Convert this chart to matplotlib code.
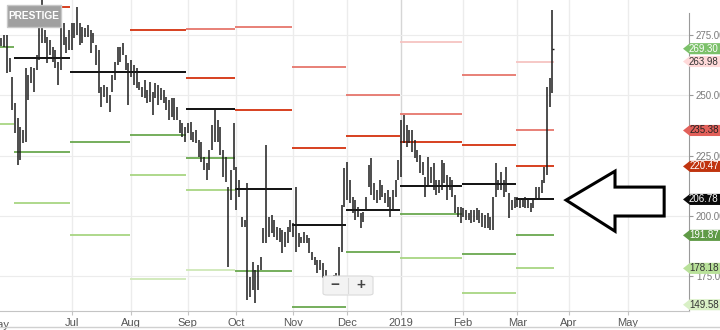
import matplotlib.pyplot as plt
import numpy as np
from matplotlib.patches import Polygon, FancyBboxPatch
from matplotlib.lines import Line2D
from matplotlib.transforms import blended_transform_factory

plt.rcParams['font.family'] = ['Liberation Sans', 'DejaVu Sans']

# daily bars (trading days), late May 2018 .. 20 Mar 2019
highs = [
    273.7, 275.0, 275.0, 265.4, 257.5,  # May
    246.8, 240.5, 236.8, 235.6, 261.3, 258.4, 261.7, 261.3, 266.7, 278.3, 289.5,
    277.1, 274.2, 272.9, 270.0, 268.8, 263.8, 284.1, 280.0, 274.2, 277.1,  # Jun
    280.0, 280.0, 286.6, 280.0, 278.3, 277.9, 279.1, 277.1, 275.8, 270.8, 268.8,
    253.4, 254.2, 253.4, 250.1, 258.4, 263.8, 270.0, 270.0, 271.7, 266.7, 263.4,  # Jul
    264.6, 262.5, 261.3, 255.5, 253.4, 256.3, 252.2, 255.5, 251.3, 255.1, 254.2,
    253.0, 252.2, 249.3, 248.0, 248.8, 248.8, 245.1, 239.7, 238.5, 236.8,  # Aug
    238.5, 238.9, 234.7, 235.6, 231.4, 230.6, 224.3, 221.9, 227.3, 237.6, 243.9,
    239.7, 236.8, 227.3, 224.3, 211.9, 219.0, 238.5,  # Sep
    220.2, 214.8, 199.5, 198.2, 213.6, 174.5, 180.8, 177.5, 179.5, 182.9, 194.9,
    229.3, 199.5, 200.3, 198.2, 195.3, 194.9, 194.1, 193.2, 195.3, 198.2,  # Oct
    197.0, 211.9, 192.8, 191.2, 193.2, 192.0, 190.7, 184.9, 182.9, 181.6, 181.6,
    180.4, 177.5, 174.5, 173.3, 175.4, 176.2, 187.0, 204.4, 219.8,  # Nov
    222.3, 214.8, 207.8, 206.5, 203.6, 201.1, 201.5, 207.8, 221.0, 223.9, 213.6,
    210.7, 214.8, 212.7, 209.4, 210.7, 207.8, 210.7, 214.8, 223.1,  # Dec
    239.7, 241.8, 237.6, 235.6, 235.6, 231.4, 227.3, 225.2, 222.3, 216.0, 224.3,
    220.2, 221.9, 214.8, 214.8, 223.1, 221.9, 216.9, 216.0, 214.8, 208.6, 203.6, 203.6,  # Jan
    203.2, 202.4, 201.1, 202.4, 202.4, 203.2, 202.4, 201.1, 200.3, 201.1, 199.5,
    207.8, 221.9, 214.8, 218.1, 214.8, 220.2, 209.4, 206.5, 207.8,  # Feb
    207.8, 207.3, 207.3, 207.8, 206.5, 205.3, 206.5, 211.9, 211.9, 214.8, 220.2,
    253.4, 257.1, 285.4,  # Mar
]
lows = [
    270.4, 270.0, 259.2, 259.6, 243.9,
    234.3, 221.0, 223.1, 230.2, 230.6, 248.0, 255.1, 251.3, 260.5, 264.6, 271.7,
    271.7, 263.4, 266.7, 263.8, 261.3, 254.2, 260.5, 270.8, 267.5, 268.8,
    268.8, 273.7, 275.0, 270.8, 271.7, 274.2, 274.2, 267.5, 271.7, 262.5, 250.9,
    245.1, 249.3, 246.8, 243.0, 251.3, 256.3, 262.5, 263.8, 266.7, 260.5, 245.9,
    257.5, 254.2, 253.0, 252.2, 249.3, 248.8, 246.8, 247.2, 241.8, 248.8, 245.9,
    248.0, 246.8, 243.9, 239.7, 240.9, 239.7, 239.7, 234.3, 232.6, 230.6,
    234.3, 231.4, 230.6, 230.2, 224.3, 222.3, 219.0, 214.8, 219.0, 227.3, 230.6,
    230.6, 225.2, 216.0, 214.0, 178.7, 206.5, 219.0,
    202.4, 207.8, 195.3, 195.3, 165.0, 166.3, 169.2, 163.8, 169.2, 177.5, 188.7,
    188.7, 191.2, 192.8, 191.2, 189.9, 189.1, 184.5, 187.0, 188.7, 193.2,
    191.2, 184.9, 187.0, 188.7, 188.7, 188.7, 184.5, 181.6, 179.5, 176.2, 177.5,
    174.1, 173.3, 171.2, 171.2, 172.1, 172.5, 173.3, 184.9, 203.6,
    206.5, 205.3, 201.1, 198.2, 199.5, 194.9, 197.4, 202.4, 211.9, 208.6, 206.5,
    205.3, 206.5, 207.8, 205.3, 203.6, 199.5, 202.4, 207.8, 214.8,
    216.0, 230.2, 228.5, 230.2, 226.4, 223.9, 222.3, 217.7, 216.9, 207.8, 211.9,
    213.6, 210.7, 208.6, 209.4, 210.7, 213.6, 206.5, 210.7, 207.8, 201.1, 199.5, 197.0,
    199.5, 198.2, 198.2, 197.0, 197.4, 198.2, 197.0, 195.3, 194.9, 194.9, 194.1,
    194.1, 207.8, 210.7, 210.7, 207.8, 209.8, 199.0, 202.4, 203.2,
    203.6, 203.2, 203.6, 203.2, 203.2, 201.5, 203.2, 206.5, 206.5, 209.4, 213.6,
    216.9, 245.1, 250.9,
]
last_close = 269.30

# trading days per month (May is partial), Mar and Apr full length for the axis
month_days = [5, 21, 22, 21, 18, 21, 20, 20, 23, 20, 19, 22]
month_names = ['May', 'Jun', 'Jul', 'Aug', 'Sep', 'Oct', 'Nov', 'Dec', '2019', 'Feb', 'Mar', 'Apr', 'May']

# monthly pivot levels, May .. Mar (nan = off the chart)
nan = np.nan
pivot = [nan, 265.4, 259.8, 259.6, 244.3, 211.1, 196.1, 202.4, 212.3, 213.1, 206.78]
r1 = [nan, 286.6, nan, 277.1, 257.1, 243.9, 228.1, 233.1, 230.6, 229.3, 220.47]
r2 = [nan, nan, nan, nan, 277.5, 278.3, 261.7, 250.1, 242.2, 258.4, 235.38]
r3 = [nan, nan, nan, nan, nan, nan, nan, nan, 272.1, nan, 263.98]
s1 = [270.0, 226.4, 230.6, 233.5, 223.9, 177.0, 162.1, 184.9, 200.7, 184.1, 191.87]
s2 = [238.1, 205.3, 192.0, 216.9, 210.7, nan, nan, nan, 182.4, 167.9, 178.18]
s3 = [nan, nan, nan, 173.7, 177.5, nan, nan, nan, nan, nan, 149.58]

tag_values = [269.30, 263.98, 235.38, 220.47, 206.78, 191.87, 178.18, 149.58]
tag_fill = ['#7cc16a', '#ffd9d9', '#e2605a', '#c0340f', '#0a0a0a', '#5f9a46', '#b9e19a', '#d9f0c6']
tag_text = ['white', '#333333', '#222222', 'white', 'white', 'white', '#333333', '#333333']

ymin, ymax = 160.5, 289.5

fig = plt.figure(figsize=(7.2, 3.3), dpi=100)
ax = fig.add_axes([0, 19 / 330, 689 / 720, 311 / 330])
ax.set_xlim(-0.55, 254.6)
ax.set_ylim(ymin, ymax)

starts = np.concatenate([[0], np.cumsum(month_days)])
n = len(highs)
x = np.arange(n)

# grid
ax.set_yticks([175, 200, 225, 250, 275])
ax.grid(axis='y', color='#ececec', lw=0.8, zorder=0)
for i, s in enumerate(starts[2:]):
    c = '#d6d6d6' if month_names[i + 2] == '2019' else '#ececec'
    ax.axvline(s, color=c, lw=1, zorder=0)

# pivot segments
levels = [(r3, '#f6c4c2', 1.3), (r2, '#e6766c', 1.3), (r1, '#d7401f', 1.4),
          (s1, '#6aa84f', 1.3), (s2, '#a8d582', 1.3), (s3, '#cfe8b8', 1.3),
          (pivot, '#111111', 1.4)]
for vals, col, lw in levels:
    for m in range(len(vals)):
        if np.isnan(vals[m]):
            continue
        x0 = starts[m] - 0.5
        x1 = min(starts[m + 1], n) - 0.5
        ax.hlines(vals[m], x0, x1, color=col, lw=lw, zorder=2)

# price bars
ax.vlines(x, lows, highs, color='#1c1c1c', lw=1.1, zorder=3)
ax.hlines(last_close, n - 1, n - 0.4, color='#1c1c1c', lw=1.0, zorder=3)

# arrow annotation
arrow = Polygon([(209.1, 206.5), (227.2, 218.5), (227.2, 211.9), (245.4, 211.9),
                 (245.4, 199.9), (227.2, 199.9), (227.2, 193.6)],
                closed=True, fc='white', ec='black', lw=2.2, zorder=6)
ax.add_patch(arrow)

# axes styling
for sp in ['top', 'left']:
    ax.spines[sp].set_visible(False)
ax.spines['bottom'].set_color('#c4c4c4')
ax.spines['right'].set_color('#9a9a9a')
ax.spines['right'].set_bounds(ymin, 284)
ax.yaxis.tick_right()
ax.set_yticklabels(['%.2f' % v for v in [175, 200, 225, 250, 275]])
ax.tick_params(axis='y', labelsize=7, labelcolor='#7a7a7a', color='#9a9a9a', length=3, pad=2)
ax.set_xticks(starts[2:])
ax.set_xticklabels(month_names[2:])
ax.tick_params(axis='x', labelsize=8, labelcolor='#555555', color='#c4c4c4', length=3, pad=2)
tb = blended_transform_factory(ax.transData, ax.transAxes)
ax.text(-0.9, -0.045, month_names[0], transform=tb, ha='center', va='center',
        fontsize=8, color='#555555', clip_on=False)

# price tags on the right
tt = blended_transform_factory(ax.transAxes, ax.transData)
h = 2.3
for v, fc, tc in zip(tag_values, tag_fill, tag_text):
    yv = max(v, ymin + 2.6)
    tag = Polygon([(0.9913, yv), (1.0015, yv + h), (1.06, yv + h), (1.06, yv - h), (1.0015, yv - h)],
                  closed=True, transform=tt, fc=fc, ec='none', clip_on=False, zorder=7)
    ax.add_patch(tag)
    ax.text(1.0215, yv, '%.2f' % v, transform=tt, ha='center', va='center',
            fontsize=7, color=tc, clip_on=False, zorder=8)

# name label
ax.add_patch(FancyBboxPatch((0.0102, 0.913), 0.0783, 0.071, boxstyle='square,pad=0',
                            transform=ax.transAxes, fc='#a0a0a0', ec='#c8c8c8', lw=1, zorder=8))
ax.text(0.0494, 0.949, 'PRESTIGE', transform=ax.transAxes, ha='center', va='center',
        fontsize=7.3, fontweight='bold', color='white', zorder=9)

# zoom buttons
ax.add_patch(FancyBboxPatch((0.4688, 0.0514), 0.0726, 0.0611, boxstyle='round,pad=0,rounding_size=0.006',
                            transform=ax.transAxes, fc='#f3f3f3', ec='#dadada', lw=0.8, zorder=8))
ax.plot([0.505, 0.505], [0.058, 0.106], transform=ax.transAxes, color='#dadada', lw=0.8, zorder=9)
ax.text(0.486, 0.0836, '\u2212', transform=ax.transAxes, ha='center', va='center',
        fontsize=11, fontweight='bold', color='#444444', zorder=9)
ax.text(0.524, 0.0836, '+', transform=ax.transAxes, ha='center', va='center',
        fontsize=11, fontweight='bold', color='#444444', zorder=9)

fig.add_artist(Line2D([0, 1], [3 / 330, 3 / 330], transform=fig.transFigure, color='#d0d0d0', lw=1))

fig.savefig('out.png', dpi=100)
